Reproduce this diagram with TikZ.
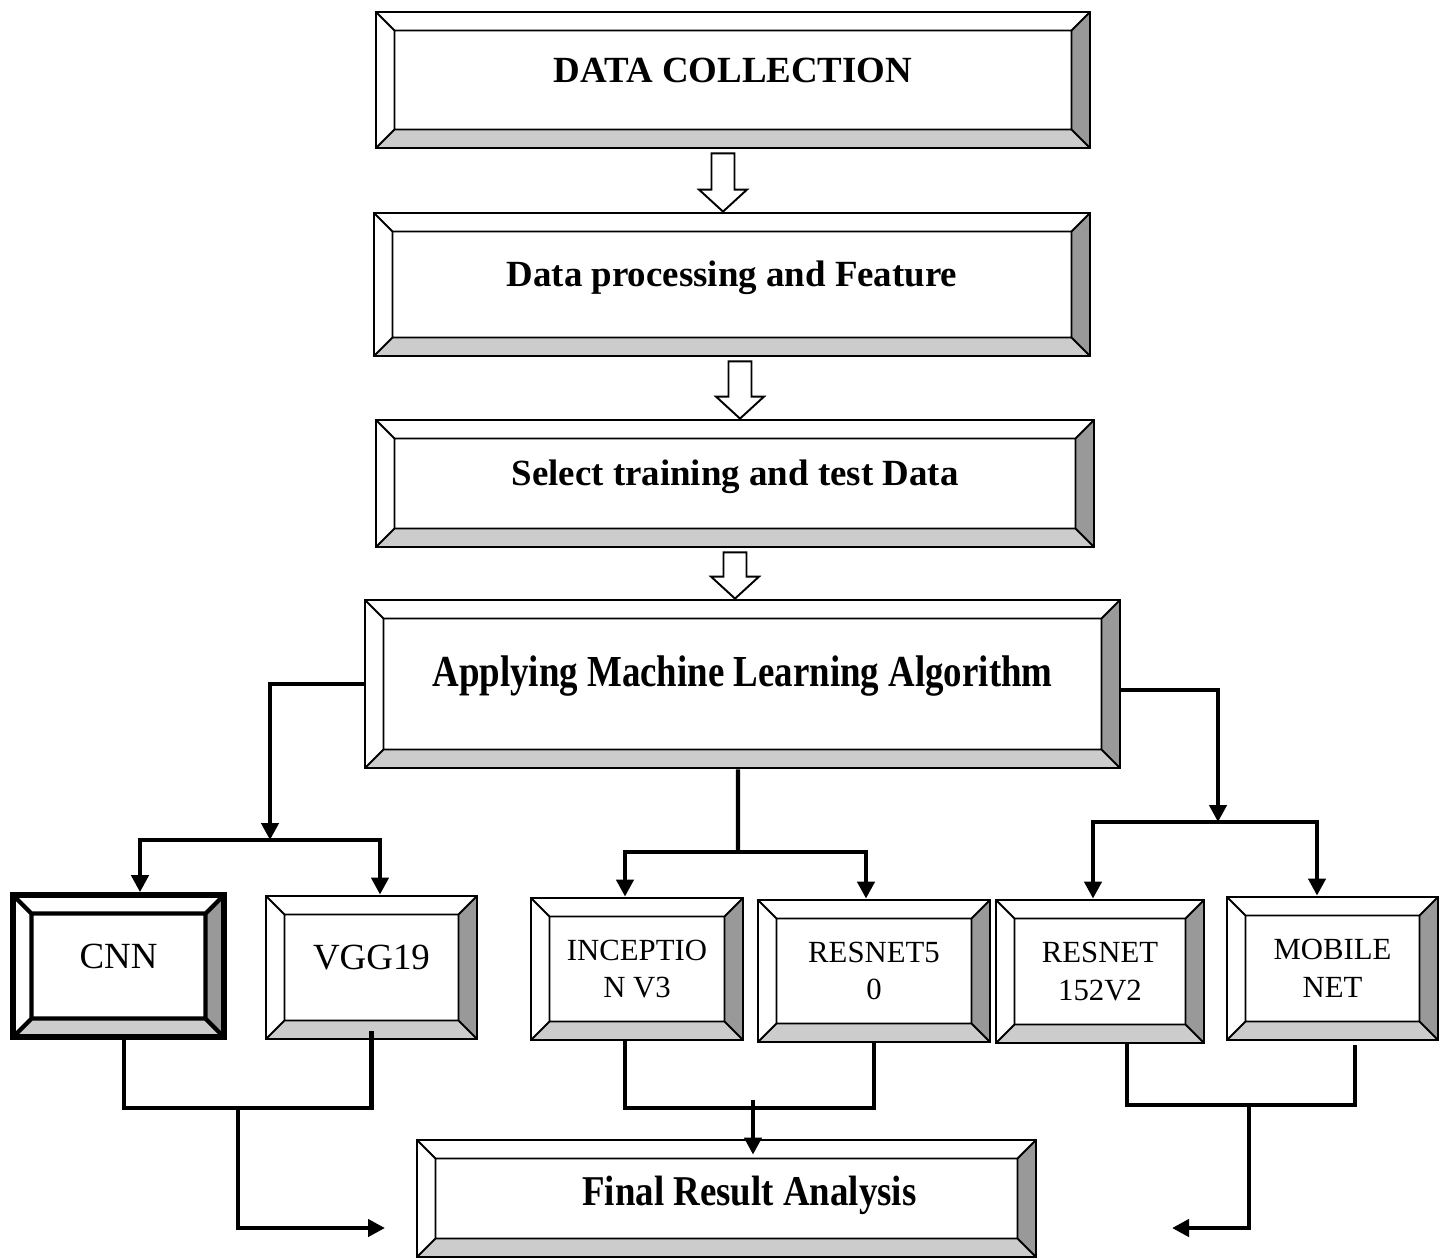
\documentclass[tikz,border=0pt]{standalone}
\usepackage{fontspec}
\setmainfont{Liberation Serif}
\usepackage{graphicx}
\usetikzlibrary{calc,arrows.meta}

\definecolor{lowface}{HTML}{CCCCCC}
\definecolor{sideface}{HTML}{999999}

\newcommand\bevsz{3.7mm}
% hollow block arrow between two stacked boxes
\newcommand\hollowarrow[2]{%
    \draw[blockarr] let \p1=(#1), \p2=(#2) in
        (\x1-2.3mm,\y1-0.8mm) -- (\x1-2.3mm,\y2+4.4mm) -- (\x1-4.8mm,\y2+4.4mm)
        -- (\x1,\y2) -- (\x1+4.8mm,\y2+4.4mm) -- (\x1+2.3mm,\y2+4.4mm)
        -- (\x1+2.3mm,\y1-0.8mm) -- cycle;}

\tikzset{
    bevline/.style={line width=1.1pt},
    bevel/.style={draw, line width=1.6pt, inner sep=0pt, fill=white,
        path picture={
            \path (path picture bounding box.south west) coordinate (pA)
                  (path picture bounding box.south east) coordinate (pB)
                  (path picture bounding box.north east) coordinate (pC)
                  (path picture bounding box.north west) coordinate (pD);
            \path ($(pA)+(\bevsz,\bevsz)$) coordinate (qA)
                  ($(pB)+(-\bevsz,\bevsz)$) coordinate (qB)
                  ($(pC)+(-\bevsz,-\bevsz)$) coordinate (qC)
                  ($(pD)+(\bevsz,-\bevsz)$) coordinate (qD);
            \fill[lowface] (pA) -- (pB) -- (qB) -- (qA) -- cycle;
            \fill[sideface] (pB) -- (pC) -- (qC) -- (qB) -- cycle;
            \draw[bevline] (qA) rectangle (qC) (pA) -- (qA) (pB) -- (qB)
                (pC) -- (qC) (pD) -- (qD);
        }},
    box/.style 2 args={bevel, minimum width=#1*0.2mm, minimum height=#2*0.2mm},
    headtxt/.style={font=\fontsize{21}{25}\selectfont\bfseries,
        text height=14pt, text depth=11.4pt},
    talltxt/.style={font=\fontsize{21}{25}\selectfont\bfseries,
        text height=17pt, text depth=#1},
    modeltxt/.style={font=\fontsize{21}{25}\selectfont,
        text height=14pt, text depth=11.4pt},
    smalltxt/.style={font=\fontsize{17.5}{21.5}\selectfont, align=center},
    conn/.style={line width=2.4pt},
    blockarr/.style={draw, fill=white, line width=1.1pt, line join=miter},
    >={Triangle[length=3.4mm, width=3.4mm]}
}

\begin{document}
\begin{tikzpicture}[x=0.2mm, y=-0.2mm]
    \useasboundingbox (0,0) rectangle (1441,1258);

    % main chain
    \node[box={714}{136}, headtxt] (collect) at (733,80) {DATA COLLECTION};
    \node[box={716}{143}, headtxt] (prep) at (732,284.5) {Data processing and Feature};
    \node[box={718}{127}, headtxt] (split) at (735,483.5) {Select training and test Data};
    \node[box={755}{168}, talltxt=14pt] (algo) at (742.5,684)
        {\scalebox{1}[1.2]{Applying Machine Learning Algorithm}};

    \hollowarrow{[xshift=-2mm]collect.south}{prep.north}
    \hollowarrow{[xshift=1.6mm]prep.south}{split.north}
    \hollowarrow{split.south}{algo.north}

    % models
    \node[box={211}{142}, modeltxt, line width=3.2pt, bevline/.style={line width=2.4pt}]
        (cnn) at (118.5,966) {CNN};
    \node[box={211}{143}, modeltxt] (vgg) at (371.5,967.5) {VGG19};
    \node[box={212}{142}, smalltxt] (incep) at (637,969) {INCEPTIO\\N V3};
    \node[box={232}{142}, smalltxt] (res50) at (874,971) {RESNET5\\0};
    \node[box={208}{143}, smalltxt] (res152) at (1100,971.5) {RESNET\\152V2};
    \node[box={211}{143}, smalltxt] (mobile) at (1332.5,968.5) {MOBILE\\NET};

    \node[box={619}{117}, talltxt=9.3pt] (final) at (726.5,1198.5)
        {\hspace{9.2mm}\scalebox{1}[1.15]{Final Result Analysis}};

    % branches out of the algorithm box
    \coordinate (lt) at (270,840);
    \coordinate (lb1) at (140,840);
    \coordinate (lb2) at (380,840);
    \draw[conn,->] (algo.west) -| (lt);
    \draw[conn,<->] (lb1 |- cnn.north) -- (lb1) -- (lb2) -- (lb2 |- vgg.north);

    \coordinate (mt) at (738,852);
    \coordinate (mb1) at (625,852);
    \coordinate (mb2) at (866,852);
    \draw[conn] ([xshift=-0.9mm]algo.south) -- (mt);
    \draw[conn,<->] (mb1 |- incep.north) -- (mb1) -- (mb2) -- (mb2 |- res50.north);

    \coordinate (rt) at (1218,822);
    \coordinate (rb1) at (1093,822);
    \coordinate (rb2) at (1317,822);
    \draw[conn,->] ([yshift=-1.2mm]algo.east) -| (rt);
    \draw[conn,<->] (rb1 |- res152.north) -- (rb1) -- (rb2) -- (rb2 |- mobile.north);

    % joining into the final box
    \coordinate (lj) at (238,1108);
    \coordinate (la) at (385,1228);
    \draw[conn] ([xshift=1.1mm]cnn.south) |- (lj) -| ([yshift=1.8mm]vgg.south);
    \draw[conn,->] (lj) |- (la);

    \coordinate (mj) at (753,1108);
    \draw[conn] ([xshift=-2.4mm]incep.south) |- (mj) -| (res50.south);
    \draw[conn,->] ([yshift=1.6mm]mj) -- ([yshift=-3.2mm]mj |- final.north);

    \coordinate (rj) at (1249,1105);
    \coordinate (ra) at (1172,1228);
    \draw[conn] ([xshift=5.4mm]res152.south) |- (rj) -| ([xshift=4.5mm, yshift=-0.8mm]mobile.south);
    \draw[conn,->] (rj) |- (ra);
\end{tikzpicture}
\end{document}
